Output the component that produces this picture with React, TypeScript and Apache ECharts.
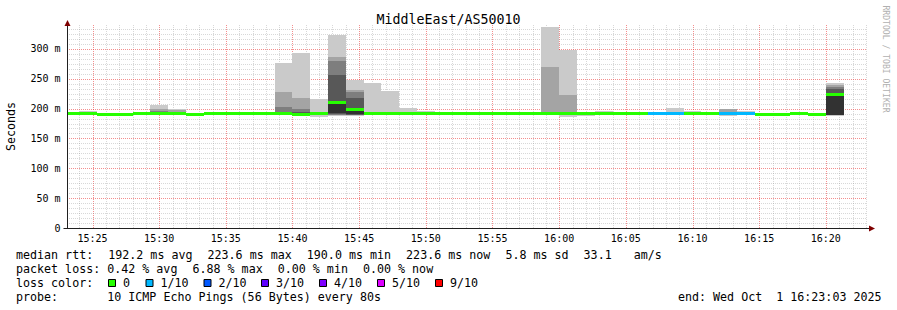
import React, { useEffect, useRef } from "react";
import * as echarts from "echarts";

// ---- time axis (seconds after 15:00:00) ----
const startSec = 1383; // 15:23:03
const endSec = 4983; // 16:23:03
const firstStepSec = 1360; // 15:22:40, first RRD step (partly before the window)
const stepSec = 80;
const xTickValues = [1500, 1800, 2100, 2400, 2700, 3000, 3300, 3600, 3900, 4200, 4500, 4800];
const yTickValues = [0, 50, 100, 150, 200, 250, 300];
const yMax = 340;

// ---- data: median rtt (ms) per 80 s step ----
const median = [191, 191, 190, 190, 192, 192.5, 192.5, 190, 191, 191, 192.5, 192, 192, 190, 191, 210, 199, 191, 191, 191, 191, 191, 191, 191, 191.5, 191, 191, 191, 191, 191, 191, 191, 191, 191, 191, 191, 191, 192.5, 191, 190.5, 190.5, 192, 189.5, 223.6];
// loss colour index per step (0 = no loss, 1 = 1/10)
const lossIdx = [0, 0, 0, 0, 0, 0, 0, 0, 0, 0, 0, 0, 0, 0, 0, 0, 0, 0, 0, 0, 0, 0, 0, 0, 0, 0, 0, 0, 0, 0, 0, 0, 0, 1, 1, 0, 0, 1, 1, 0, 0, 0, 0, 0];
// sorted ping rtts (ms): p1 = fastest ... p10 = slowest
const p1 = [190, 190, 189.5, 189.5, 191, 191, 191, 190, 191, 191, 192, 192, 190, 188, 186, 188, 188, 190, 189, 191, 191, 191, 191, 191, 191.5, 191, 191, 190, 186.5, 187, 191, 191, 191, 191, 191, 191, 191, 188, 191, 190.5, 190.5, 192, 188, 188];
const p2 = [191, 191, 190, 190, 192, 191.5, 192, 190, 191, 191, 192.5, 192, 191, 189, 189, 189, 189, 191, 189, 191, 191, 191, 191, 191, 191.5, 191, 191, 190.5, 189, 191, 191, 191, 191, 191, 191, 191, 191, 192.5, 191, 190.5, 190.5, 192, 189.5, 188.5];
const p3 = [191, 191, 190, 190, 192, 192, 192, 190, 191, 191, 192.5, 192, 191, 189.5, 190, 190, 189.5, 191, 189, 191, 191, 191, 191, 191, 191.5, 191, 191, 191, 190.5, 191, 191, 191, 191, 191, 191, 191, 191, 192.5, 191, 190.5, 190.5, 192, 189.5, 189];
const p4 = [191, 191, 190, 190, 192, 192, 192, 190, 191, 191, 192.5, 192, 191.5, 190, 190.5, 190.5, 190, 191, 189, 191, 191, 191, 191, 191, 191.5, 191, 191, 191, 190.5, 191, 191, 191, 191, 191, 191, 191, 191, 192.5, 191, 190.5, 190.5, 192, 189.5, 189.5];
const p5 = [191, 191, 190, 190, 192, 192, 192, 190, 191, 191, 192.5, 192, 192, 190, 191, 192, 190.5, 191, 189, 191, 191, 191, 191, 191, 191.5, 191, 191, 191, 190.5, 191, 191, 191, 191, 191, 191, 191, 191, 192.5, 191, 190.5, 190.5, 192, 189.5, 190];
const p6 = [191, 191, 190, 190, 192, 193, 193, 190, 191, 191, 192.5, 192, 193, 192, 191.5, 211, 200, 191, 191.5, 191, 191, 191, 191, 191, 191.5, 191, 191, 191, 191, 191, 191, 191, 191, 191, 191, 191, 191, 192.5, 191, 190.5, 190.5, 192, 189.5, 226];
const p7 = [191, 191, 190, 190, 192, 194, 194, 190, 191, 191, 192.5, 192, 195, 194, 192, 256, 218, 191, 192, 191, 191, 191, 191, 191, 191.5, 191, 191, 191, 192, 191, 191, 191, 191, 191, 191, 191, 191, 192.5, 191, 190.5, 190.5, 192, 189.5, 232];
const p8 = [191, 191, 190, 190, 192, 196, 195, 190, 191, 191, 192.5, 192, 203, 200, 193, 280, 227, 191, 192, 191, 191, 191, 191, 191, 191.5, 191, 191, 193, 194, 191, 191, 191, 191, 191, 191, 191, 191, 192.5, 191, 190.5, 190.5, 192, 189.5, 236];
const p9 = [191, 192, 190.5, 190, 192, 199, 197, 190, 191, 191, 192.5, 192, 227, 218, 195, 287, 231, 192, 193, 192, 191, 191, 191, 191, 191.5, 191, 191, 270, 223, 191, 195, 191, 191, 191, 191, 191, 191, 199, 193, 190.5, 190.5, 192, 189.5, 240];
const p10 = [192, 196, 193, 191, 193, 206, 200, 191, 193, 193, 193, 194.5, 277, 293, 216, 323, 248, 243.5, 229.6, 201, 196, 193, 193, 192, 192, 192, 192, 336, 298, 192, 196.5, 194, 191.5, 191, 201, 196, 191, 200, 196.5, 190.5, 190.5, 193, 191, 243];

const smokeColors = ["#cacaca", "#a4a4a4", "#7e7e7e", "#585858", "#323232"];
const lossColors = ["#26ff00", "#00b8ff", "#0059ff", "#5e00ff", "#7e00ff", "#dd00ff", "#ff0000"];
const lossLabels = ["0", "1/10", "2/10", "3/10", "4/10", "5/10", "9/10"];

const titleText = "MiddleEast/AS50010";
const yAxisTitle = "Seconds";
const watermark = "RRDTOOL / TOBI OETIKER";
const legendLines = [
  "median rtt:  192.2 ms avg  223.6 ms max  190.0 ms min  223.6 ms now  5.8 ms sd  33.1   am/s",
  "packet loss: 0.42 % avg  6.88 % max  0.00 % min  0.00 % now",
  "loss color:",
  "probe:       10 ICMP Echo Pings (56 Bytes) every 80s",
];
const endText = "end: Wed Oct  1 16:23:03 2025";

const MONO = "'DejaVu Sans Mono', monospace";
const CHAR_W = 7.02;
const LEG_FONT = 11.66;

function fmtTime(s: number) {
  const h = 15 + Math.floor(s / 3600);
  const m = Math.floor((s % 3600) / 60);
  return `${h}:${m < 10 ? "0" : ""}${m}`;
}

// split a monospaced line into tokens at runs of 2+ spaces, keeping columns
function tokens(line: string) {
  const out: { col: number; text: string }[] = [];
  const re = /\S+(?: \S+)*/g;
  let mm: RegExpExecArray | null;
  while ((mm = re.exec(line))) out.push({ col: mm.index, text: mm[0] });
  return out;
}

export default function App() {
  const ref = useRef<HTMLDivElement>(null);
  useEffect(() => {
    if (!ref.current) return;
    const chart = echarts.init(ref.current, undefined, { renderer: "svg" });

    const smokeData = median.map((m, i) => [
      firstStepSec + i * stepSec,
      firstStepSec + (i + 1) * stepSec,
      p1[i], p2[i], p3[i], p4[i], p5[i], p6[i], p7[i], p8[i], p9[i], p10[i],
      m,
      lossIdx[i],
    ]);

    const graphics: any[] = [];
    graphics.push({
      type: "text",
      x: 448.5,
      y: 19,
      style: { text: titleText, font: `13.3px ${MONO}`, fill: "#000", align: "center", verticalAlign: "middle" },
    });
    graphics.push({
      type: "text",
      x: 11,
      y: 126.5,
      rotation: Math.PI / 2,
      style: { text: yAxisTitle, font: `${LEG_FONT}px ${MONO}`, fill: "#000", align: "center", verticalAlign: "middle" },
    });
    graphics.push({
      type: "text",
      x: 886,
      y: 59,
      rotation: -Math.PI / 2,
      style: { text: watermark, font: `8.1px ${MONO}`, fill: "#b0b0b0", align: "center", verticalAlign: "middle" },
    });
    const rowY = [254.5, 268.5, 282.5, 296.5];
    legendLines.forEach((line, r) => {
      tokens(line).forEach((t, k) => {
        const extra = r < 2 ? k * 1 : 0;
        graphics.push({
          type: "text",
          x: 16 + t.col * CHAR_W + extra,
          y: rowY[r],
          style: { text: t.text, font: `${LEG_FONT}px ${MONO}`, fill: "#000", align: "left", verticalAlign: "middle" },
        });
      });
    });
    graphics.push({
      type: "text",
      x: 678,
      y: rowY[3],
      style: { text: endText, font: `${LEG_FONT}px ${MONO}`, fill: "#000", align: "left", verticalAlign: "middle" },
    });
    const boxX = [108, 145.5, 203.5, 261, 319, 377, 435];
    lossLabels.forEach((lab, k) => {
      graphics.push({
        type: "rect",
        shape: { x: boxX[k] + 0.5, y: 279.5, width: 7, height: 7 },
        style: { fill: lossColors[k], stroke: "#000", lineWidth: 1 },
      });
      graphics.push({
        type: "text",
        x: boxX[k] + 15,
        y: rowY[2],
        style: { text: lab, font: `${LEG_FONT}px ${MONO}`, fill: "#000", align: "left", verticalAlign: "middle" },
      });
    });

    const minorCol = "rgba(140,140,140,0.34)";
    const majorCol = "rgba(235,50,50,0.55)";

    const option: any = {
      animation: false,
      backgroundColor: "#ffffff",
      grid: { left: 66.5, right: 30.5, top: 25, bottom: 82, containLabel: false },
      xAxis: {
        type: "value",
        min: startSec,
        max: endSec,
        axisLine: { show: false },
        axisTick: { show: false },
        splitLine: { show: false },
        axisLabel: {
          customValues: xTickValues,
          formatter: (v: number) => fmtTime(v),
          fontFamily: "DejaVu Sans Mono",
          fontSize: 10,
          color: "#000",
          margin: 5,
        },
      },
      yAxis: {
        type: "value",
        min: 0,
        max: yMax,
        axisLine: { show: false },
        axisTick: { show: false },
        splitLine: { show: false },
        axisLabel: {
          customValues: yTickValues,
          formatter: (v: number) => (v === 0 ? "0" : `${v} m`),
          fontFamily: "DejaVu Sans Mono",
          fontSize: 10,
          color: "#000",
          margin: 6,
        },
      },
      graphic: graphics,
      series: [
        {
          type: "custom",
          name: "grid",
          z: 1,
          clip: false,
          silent: true,
          data: [[0]],
          renderItem: (_p: any, api: any) => {
            const children: any[] = [];
            const xl = Math.round(api.coord([startSec, 0])[0]);
            const xr = Math.round(api.coord([endSec, 0])[0]);
            const yb = Math.round(api.coord([startSec, 0])[1]);
            const yt = Math.round(api.coord([startSec, yMax])[1]);
            for (let t = 1440; t < endSec; t += 60) {
              const major = t % 300 === 0;
              const x = Math.round(api.coord([t, 0])[0]) + 0.5;
              children.push({
                type: "line",
                shape: { x1: x, y1: yt, x2: x, y2: yb },
                style: { stroke: major ? majorCol : minorCol, lineWidth: 1, lineDash: [1, 1] },
              });
            }
            for (let k = 1; (k * 50) / 6 < yMax; k++) {
              const v = (k * 50) / 6;
              const major = k % 6 === 0;
              const y = Math.round(api.coord([startSec, v])[1]) + 0.5;
              children.push({
                type: "line",
                shape: { x1: xl, y1: y, x2: xr, y2: y },
                style: { stroke: major ? majorCol : minorCol, lineWidth: 1, lineDash: [1, 1] },
              });
            }
            return { type: "group", children };
          },
        },
        {
          type: "custom",
          name: "smoke",
          z: 2,
          clip: true,
          silent: true,
          data: smokeData,
          encode: { x: [0, 1], y: [2, 11] },
          renderItem: (_p: any, api: any) => {
            const t0 = Math.max(api.value(0), startSec);
            const t1 = Math.min(api.value(1), endSec);
            const xa = Math.round(api.coord([t0, 0])[0]);
            const xb = Math.round(api.coord([t1, 0])[0]);
            const children: any[] = [];
            for (let k = 0; k < 5; k++) {
              const lo = api.value(2 + k);
              const hi = api.value(11 - k);
              const ya = Math.round(api.coord([t0, hi])[1]);
              const yb = Math.round(api.coord([t0, lo])[1]);
              if (yb > ya) {
                children.push({
                  type: "rect",
                  shape: { x: xa, y: ya, width: xb - xa, height: yb - ya },
                  style: { fill: smokeColors[k] },
                });
              }
            }
            const m = api.value(12);
            const sw = 2.5;
            const ma = Math.round(api.coord([t0, m + sw])[1]);
            const mb = Math.round(api.coord([t0, m - sw])[1]);
            children.push({
              type: "rect",
              shape: { x: xa, y: ma, width: xb - xa, height: Math.max(mb - ma, 2) },
              style: { fill: lossColors[api.value(13)] },
            });
            return { type: "group", children };
          },
        },
        {
          type: "custom",
          name: "axes",
          z: 5,
          clip: false,
          silent: true,
          data: [[0]],
          renderItem: (_p: any, api: any) => {
            const x0 = Math.round(api.coord([startSec, 0])[0]) + 0.5;
            const x1 = Math.round(api.coord([endSec, 0])[0]);
            const y0 = Math.round(api.coord([startSec, 0])[1]) + 0.5;
            const yt = Math.round(api.coord([startSec, yMax])[1]);
            return {
              type: "group",
              children: [
                { type: "line", shape: { x1: x0 - 4, y1: y0, x2: x1 + 3, y2: y0 }, style: { stroke: "#202020", lineWidth: 1 } },
                { type: "line", shape: { x1: x0, y1: y0 + 0.5, x2: x0, y2: yt - 2 }, style: { stroke: "#202020", lineWidth: 1 } },
                { type: "polygon", shape: { points: [[x1 + 2, y0 - 3], [x1 + 8, y0], [x1 + 2, y0 + 3]] }, style: { fill: "#7f0000" } },
                { type: "polygon", shape: { points: [[x0 - 3, yt + 1], [x0, yt - 5], [x0 + 3, yt + 1]] }, style: { fill: "#7f0000" } },
              ],
            };
          },
        },
      ],
    };
    chart.setOption(option);
    return () => chart.dispose();
  }, []);
  return <div ref={ref} style={{ position: "fixed", left: 0, top: 0, width: 897, height: 310, background: "#fff" }} />;
}
